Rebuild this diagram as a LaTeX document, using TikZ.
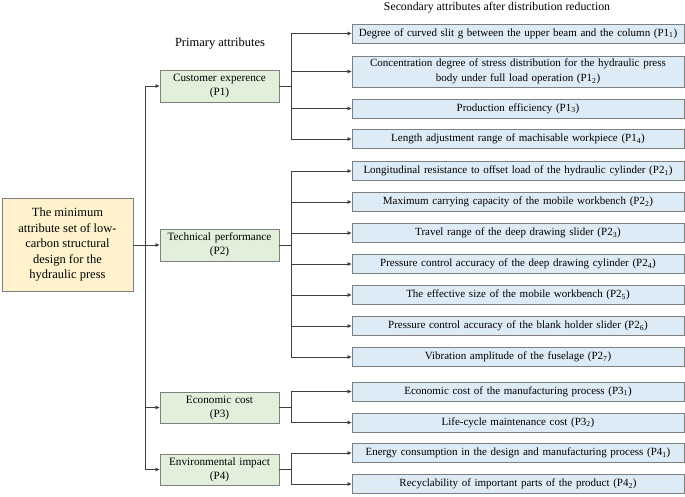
\documentclass[tikz,border=0pt]{standalone}
\usepackage{fontspec}
\setmainfont{Liberation Serif}
\usetikzlibrary{arrows.meta}
\definecolor{rootfill}{HTML}{FFF2CC}
\definecolor{primfill}{HTML}{E2EFDA}
\definecolor{secfill}{HTML}{DDEBF7}
\definecolor{boxline}{HTML}{7F7F7F}
\definecolor{conline}{HTML}{404040}
\begin{document}
\begin{tikzpicture}[x=1pt,y=-1pt,
  rootbox/.style={draw=boxline,line width=0.9pt,fill=rootfill,minimum width=131pt,minimum height=93pt,inner sep=2pt,align=center,font=\fontsize{12.5}{15.5}\selectfont},
  primbox/.style={draw=boxline,line width=0.9pt,fill=primfill,minimum width=119pt,minimum height=31pt,inner sep=1pt,align=center,text width=115pt,font=\fontsize{11.2}{14}\selectfont},
  secbox/.style={draw=boxline,line width=0.9pt,fill=secfill,minimum width=332pt,minimum height=19pt,inner sep=1pt,align=center,text width=328pt,font=\fontsize{11}{14.5}\selectfont},
  heading/.style={font=\fontsize{12.5}{14}\selectfont,inner sep=0pt},
  conn/.style={draw=conline,line width=0.7pt},
  arr/.style={conn,-{Triangle[length=4pt,width=3.6pt]}}
]
\useasboundingbox (0,0) rectangle (685,496);
% headings
\node[heading] (h1) at (220,44) {Primary attributes};
\node[heading,font=\fontsize{11.8}{14}\selectfont] (h2) at (497,8) {Secondary attributes after distribution reduction};
% root
\node[rootbox] (root) at (67.5,245) {The minimum\\attribute set of low-\\carbon structural\\design for the\\hydraulic press};
% primary
\node[primbox,minimum height=32pt] (p1) at (219.5,86) {Customer experence\\(P1)};
\node[primbox,minimum height=32pt] (p2) at (219.5,245) {Technical performance\\(P2)};
\node[primbox] (p3) at (219.5,407.5) {Economic cost\\(P3)};
\node[primbox] (p4) at (219.5,469.5) {Environmental impact\\(P4)};
% secondary
\node[secbox] (s11) at (518,33.5) {Degree of curved slit g between the upper beam and the column (P1\textsubscript{1})};
\node[secbox,minimum height=31pt] (s12) at (518,71.5) {Concentration degree of stress distribution for the hydraulic press\\body under full load operation (P1\textsubscript{2})};
\node[secbox] (s13) at (518,108.5) {Production efficiency (P1\textsubscript{3})};
\node[secbox] (s14) at (518,139) {Length adjustment range of machisable workpiece (P1\textsubscript{4})};
\node[secbox] (s21) at (518,171) {Longitudinal resistance to offset load of the hydraulic cylinder (P2\textsubscript{1})};
\node[secbox] (s22) at (518,202) {Maximum carrying capacity of the mobile workbench (P2\textsubscript{2})};
\node[secbox] (s23) at (518,233) {Travel range of the deep drawing slider (P2\textsubscript{3})};
\node[secbox] (s24) at (518,264) {Pressure control accuracy of the deep drawing cylinder (P2\textsubscript{4})};
\node[secbox] (s25) at (518,295) {The effective size of the mobile workbench (P2\textsubscript{5})};
\node[secbox] (s26) at (518,326) {Pressure control accuracy of the blank holder slider (P2\textsubscript{6})};
\node[secbox] (s27) at (518,357) {Vibration amplitude of the fuselage (P2\textsubscript{7})};
\node[secbox] (s31) at (518,391.5) {Economic cost of the manufacturing process (P3\textsubscript{1})};
\node[secbox] (s32) at (518,422.5) {Life-cycle maintenance cost (P3\textsubscript{2})};
\node[secbox] (s41) at (518,453) {Energy consumption in the design and manufacturing process (P4\textsubscript{1})};
\node[secbox] (s42) at (518,484) {Recyclability of important parts of the product (P4\textsubscript{2})};
% root to primary
\coordinate (trunk) at (145,245);
\draw[arr] (root.east) -- (p2.west);
\draw[arr] (trunk) |- (p1.west);
\draw[arr] (trunk) |- (p3.west);
\draw[arr] (trunk) |- (p4.west);
% primary to secondary
\foreach \c in {s11,s12,s13,s14}{\draw[arr] (p1.east) -- ++(12,0) |- (\c.west);}
\foreach \c in {s21,s22,s23,s24,s25,s26,s27}{\draw[arr] (p2.east) -- ++(12,0) |- (\c.west);}
\foreach \c in {s31,s32}{\draw[arr] (p3.east) -- ++(12,0) |- (\c.west);}
\foreach \c in {s41,s42}{\draw[arr] (p4.east) -- ++(12,0) |- (\c.west);}
\end{tikzpicture}
\end{document}
